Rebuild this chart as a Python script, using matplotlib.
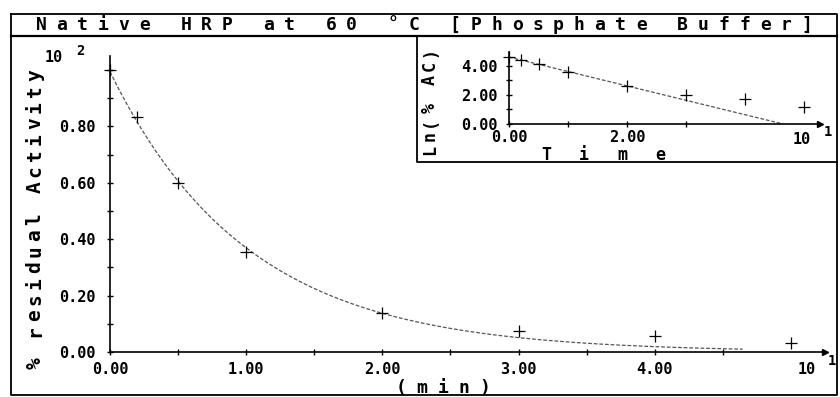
import numpy as np
import matplotlib
matplotlib.use('Agg')
from matplotlib import pyplot as plt
from matplotlib.ticker import FixedLocator

# Thermal inactivation of native HRP, 60 C, phosphate buffer
time_min = [0, 2, 5, 10, 20, 30, 40, 50]
residual_pct = [100, 83.5, 60, 35.5, 14.0, 7.5, 5.5, 3.2]

# first-order fit on the early part of the decay (t <= 20 min)
fit_upto = 20

title = 'Native HRP at 60 °C [Phosphate Buffer]'
ylabel_main = '% residual Activity'
xlabel_main = '(min)'
ylabel_inset = 'Ln(% AC)'
xlabel_inset = 'Time'

W, H = 840, 397
mono = 'DejaVu Sans Mono'
plt.rcParams['font.family'] = mono

t = np.array(time_min) / 10.0          # plotted in units of 10 min
act = np.array(residual_pct) / 100.0    # plotted in units of 10^2 %
ln_act = np.log(residual_pct)

early = np.array(time_min) <= fit_upto
slope, icpt = np.polyfit(t[early], ln_act[early], 1)
t_end = -icpt / slope
t_fit = np.linspace(0, t_end, 200)
ln_fit = icpt + slope * t_fit

fig = plt.figure(figsize=(W / 100, H / 100), dpi=100)


def fx(x):
    return x / W


def fy(y):
    return 1 - y / H


def spaced(x, y, s, pitch, rotation=0, size=12, weight='bold'):
    # lay out characters on a fixed pitch, centred on (x, y) in pixels
    n = len(s)
    for i, ch in enumerate(s):
        off = (i - (n - 1) / 2) * pitch
        if rotation == 90:
            px, py = x, y - off
        else:
            px, py = x + off, y
        fig.text(fx(px), fy(py), ch, ha='center', va='center',
                 rotation=rotation, fontsize=size, fontweight=weight,
                 family=mono)


def frame_line(xs, ys, lw=1.4, color='black'):
    fig.add_artist(plt.Line2D([fx(v) for v in xs], [fy(v) for v in ys],
                              color=color, lw=lw))


# outer frame, title bar and inset box
frame_line([11, 837, 837, 11, 11], [14, 14, 395, 395, 14], lw=1.3)
frame_line([11, 837], [36, 36], lw=1.6)
frame_line([417, 417, 837], [36, 162, 162], lw=1.3)
spaced(424, 25, title, 20.7, size=13)


def style_axes(ax, label_size=11):
    for side in ['top', 'right']:
        ax.spines[side].set_visible(False)
    for side in ['left', 'bottom']:
        ax.spines[side].set_linewidth(1.2)
    ax.patch.set_alpha(0)
    ax.tick_params(which='both', direction='inout', length=5, width=1,
                   labelsize=label_size)
    for lab in ax.get_xticklabels() + ax.get_yticklabels():
        lab.set_fontweight('bold')
    ax.plot(1, 0, marker='>', ms=4, color='black',
            transform=ax.transAxes, clip_on=False)


# main panel: residual activity against time
ax = fig.add_axes([fx(110), fy(352), 715 / W, 296 / H])
ax.set_xlim(0, 5.25)
ax.set_ylim(0, 1.05)
ax.plot(t_fit, np.exp(ln_fit) / 100.0, color='#555555', lw=0.9,
        ls=(0, (3, 1.5)))
ax.plot(t, act, ls='none', marker='+', ms=9, mew=0.9, color='black',
        clip_on=False)
ax.xaxis.set_major_locator(FixedLocator([0, 1, 2, 3, 4]))
ax.xaxis.set_minor_locator(FixedLocator([0.5, 1.5, 2.5, 3.5, 4.5]))
ax.set_xticklabels(['%.2f' % v for v in [0, 1, 2, 3, 4]])
ax.yaxis.set_major_locator(FixedLocator([0, 0.2, 0.4, 0.6, 0.8, 1.0]))
ax.yaxis.set_minor_locator(FixedLocator([0.1, 0.3, 0.5, 0.7, 0.9]))
ax.set_yticklabels(['%.2f' % v for v in [0, 0.2, 0.4, 0.6, 0.8]] + [''])
ax.tick_params(axis='y', pad=7.5)
ax.tick_params(axis='x', pad=5)
style_axes(ax)

fig.text(fx(54), fy(58), '10', ha='center', va='center', fontsize=11,
         fontweight='bold')
fig.text(fx(80), fy(51), '2', ha='center', va='center', fontsize=10,
         fontweight='bold')
fig.text(fx(807), fy(370), '10', ha='center', va='center', fontsize=11,
         fontweight='bold')
fig.text(fx(832), fy(361), '1', ha='center', va='center', fontsize=10,
         fontweight='bold')
spaced(35, 219, ylabel_main, 16, rotation=90, size=14)
spaced(443, 388, xlabel_main, 21, size=13)

# inset: ln of residual activity with the linear fit
axi = fig.add_axes([fx(509), fy(124), 311 / W, 72 / H])
axi.set_xlim(0, 5.27)
axi.set_ylim(0, 4.95)
axi.plot(t_fit, ln_fit, color='#555555', lw=0.9, ls=(0, (3, 1.5)))
axi.plot(t, ln_act, ls='none', marker='+', ms=8, mew=0.9, color='black',
         clip_on=False)
axi.xaxis.set_major_locator(FixedLocator([0, 2]))
axi.xaxis.set_minor_locator(FixedLocator([1, 3]))
axi.set_xticklabels(['0.00', '2.00'])
axi.yaxis.set_major_locator(FixedLocator([0, 2, 4]))
axi.yaxis.set_minor_locator(FixedLocator([1, 3]))
axi.set_yticklabels(['0.00', '2.00', '4.00'])
axi.tick_params(axis='y', pad=6)
axi.tick_params(axis='x', pad=2)
style_axes(axi)

fig.text(fx(802), fy(139), '10', ha='center', va='center', fontsize=11,
         fontweight='bold')
fig.text(fx(828), fy(132), '1', ha='center', va='center', fontsize=10,
         fontweight='bold')
spaced(430, 101, ylabel_inset, 14, rotation=90, size=12)
spaced(603, 155, xlabel_inset, 38, size=12)

fig.savefig('out.png', dpi=100)
